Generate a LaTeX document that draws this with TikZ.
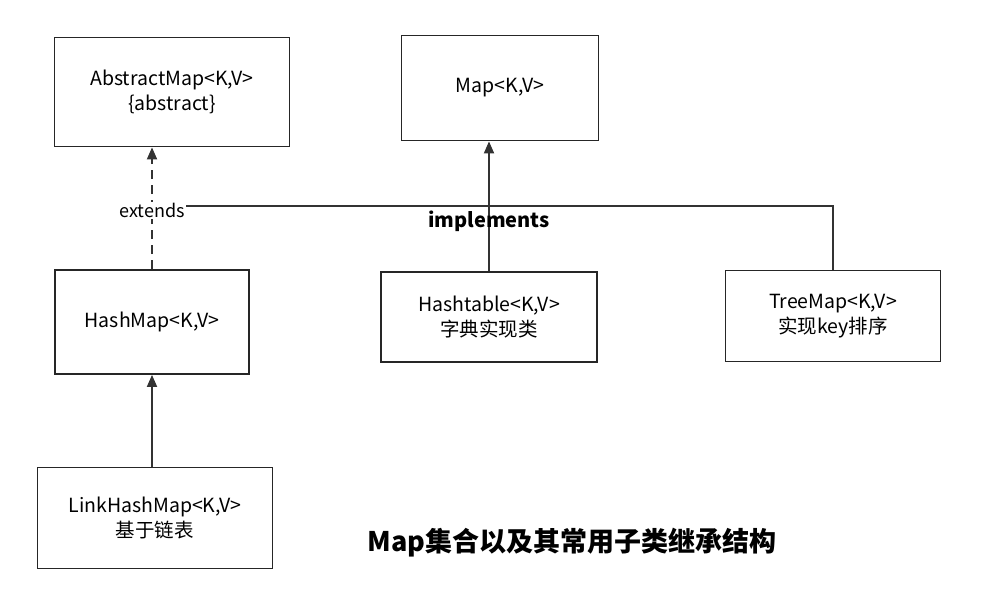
\documentclass[tikz,border=0pt]{standalone}
\usepackage{fontspec}
\setmainfont{Noto Sans CJK SC}
\usetikzlibrary{arrows.meta}
\tikzset{%
  every class/.style={
    rectangle,
    draw=black!85,
    line width=1.8pt,
    align=center,
    font=\fontsize{19.5}{25}\selectfont
  },
  link/.style={
    draw=black!80,
    line width=1.8pt
  },
}
\begin{document}
\begin{tikzpicture}[x=1pt, y=-1pt, >={Triangle[length=12pt,width=10pt]}]
\useasboundingbox (0,0) rectangle (1005,592);

\node [every class, minimum width=235pt, minimum height=109pt] (abstract) at (172,92) {AbstractMap<K,V>\\\{abstract\}};
\node [every class, minimum width=197pt, minimum height=105pt] (map) at (500,88) {Map<K,V>};
\node [every class, minimum width=194pt, minimum height=104pt] (hashmap) at (152,322) {HashMap<K,V>};
\node [every class, minimum width=216pt, minimum height=90pt] (hashtable) at (489,317) {Hashtable<K,V>\\字典实现类};
\node [every class, minimum width=215pt, minimum height=91pt] (treemap) at (833,316) {TreeMap<K,V>\\实现key排序};
\node [every class, minimum width=235pt, minimum height=101pt] (linkmap) at (155,518) {LinkHashMap<K,V>\\基于链表};

\coordinate (corner) at (833,206);
\coordinate (start) at (152,206);

\draw [link] (start) -- (corner) -- (treemap.north);
\draw [link, dash pattern=on 9pt off 6pt, ->] (hashmap.north -| start) -- (abstract.south -| start)
  node [pos=0.48, fill=white, inner sep=1pt, font=\fontsize{18}{20}\selectfont] (extends) {extends};
\draw [link, ->] (hashtable.north) -- (map.south -| hashtable.north);
\node [font=\fontsize{20}{24}\selectfont\bfseries] (impl) at (489,221) {implements};
\draw [link, ->] (linkmap.north -| start) -- (hashmap.south);

\node [font=\fontsize{27}{30}\selectfont\bfseries] (title) at (572,543) {Map集合以及其常用子类继承结构};
\end{tikzpicture}
\end{document}
